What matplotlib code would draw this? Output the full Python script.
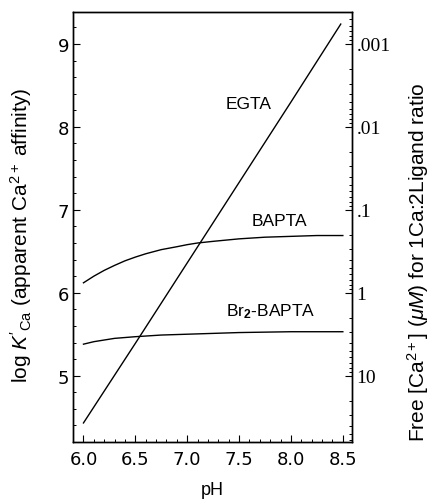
import numpy as np
import matplotlib
matplotlib.use("Agg")
import matplotlib.pyplot as plt
from matplotlib.ticker import MultipleLocator, FixedLocator, FixedFormatter, LogLocator, NullFormatter

plt.rcParams['font.family'] = ['Liberation Sans', 'DejaVu Sans']
plt.rcParams['mathtext.fontset'] = 'custom'
plt.rcParams['mathtext.rm'] = 'Liberation Sans'
plt.rcParams['mathtext.it'] = 'Liberation Sans:italic'
plt.rcParams['mathtext.bf'] = 'Liberation Sans:bold'

# Data
egta_ph = [6.0, 6.5, 7.0, 7.5, 8.0, 8.48]
egta_logk = [4.43, 5.39, 6.36, 7.33, 8.30, 9.24]

bapta_ph = [6.0, 6.1, 6.2, 6.3, 6.4, 6.5, 6.6, 6.75, 6.9, 7.0, 7.1, 7.25, 7.5, 7.75, 8.0, 8.25, 8.5]
bapta_logk = [6.12, 6.20, 6.27, 6.33, 6.385, 6.43, 6.47, 6.52, 6.555, 6.58, 6.60, 6.62, 6.65, 6.67, 6.68, 6.69, 6.69]

br2_ph = [6.0, 6.1, 6.2, 6.3, 6.5, 6.75, 7.0, 7.5, 8.0, 8.5]
br2_logk = [5.38, 5.41, 5.43, 5.45, 5.47, 5.49, 5.50, 5.52, 5.53, 5.53]

x_ticks = [6.0, 6.5, 7.0, 7.5, 8.0, 8.5]
y_ticks = [5, 6, 7, 8, 9]
right_tick_values = [0.001, 0.01, 0.1, 1, 10]
right_tick_labels = ['.001', '.01', '.1', '1', '10']

fig = plt.figure(figsize=(4.30, 5.02), dpi=100)
ax = fig.add_axes([0.170, 0.1175, 0.649, 0.8565])

lw = 1.0
ax.plot(egta_ph, egta_logk, color='black', lw=lw)
ax.plot(bapta_ph, bapta_logk, color='black', lw=lw)
ax.plot(br2_ph, br2_logk, color='black', lw=lw)

ylo, yhi = 4.2, 9.385
ax.set_xlim(5.9, 8.59)
ax.set_ylim(ylo, yhi)

ax.set_xticks(x_ticks)
ax.set_xticklabels([f"{v:.1f}" for v in x_ticks])
ax.xaxis.set_minor_locator(MultipleLocator(0.1))
ax.set_yticks(y_ticks)
ax.yaxis.set_minor_locator(MultipleLocator(0.2))

ax.tick_params(axis='both', which='major', direction='in', length=5, width=0.8, labelsize=13)
ax.tick_params(axis='both', which='minor', direction='in', length=2.5, width=0.7)
ax.tick_params(axis='x', top=False, pad=6)
ax.tick_params(axis='y', right=False, pad=3)
for lab in ax.get_xticklabels() + ax.get_yticklabels():
    lab.set_fontfamily('DejaVu Sans')
for s in ax.spines.values():
    s.set_linewidth(1.0)

ax.set_xlabel('pH', fontsize=13)
ax.xaxis.set_label_coords(0.5, -0.09)
ax.set_ylabel(r"log $K'_{\rm Ca}$ (apparent Ca$^{2+}$ affinity)", fontsize=15)
ax.yaxis.set_label_coords(-0.14, 0.484)

ax.text(7.37, 8.28, 'EGTA', fontsize=12.5, va='center', ha='left')
ax.text(7.62, 6.87, 'BAPTA', fontsize=12.5, va='center', ha='left')
ax.text(7.37, 5.78, r'Br$_{\mathbf{2}}$-BAPTA', fontsize=12.5, va='center', ha='left')

ax2 = ax.twinx()
ax2.set_yscale('log')
ax2.set_ylim(10 ** (6 - ylo), 10 ** (6 - yhi))
ax2.yaxis.set_major_locator(FixedLocator(right_tick_values))
ax2.yaxis.set_major_formatter(FixedFormatter(right_tick_labels))
ax2.yaxis.set_minor_locator(LogLocator(base=10, subs=np.arange(2, 10)))
ax2.yaxis.set_minor_formatter(NullFormatter())
ax2.tick_params(axis='y', which='major', direction='in', length=5, width=0.8, labelsize=14, pad=3)
ax2.tick_params(axis='y', which='minor', direction='in', length=2.5, width=0.7)
for lab in ax2.get_yticklabels():
    lab.set_fontfamily('Liberation Serif')
ax2.set_ylabel(r"Free [Ca$^{2+}$] ($\mu M$) for 1Ca:2Ligand ratio", fontsize=15, rotation=90)
ax2.yaxis.set_label_coords(1.19, 0.42)
for s in ax2.spines.values():
    s.set_linewidth(1.0)

fig.savefig('out.png', dpi=100)
